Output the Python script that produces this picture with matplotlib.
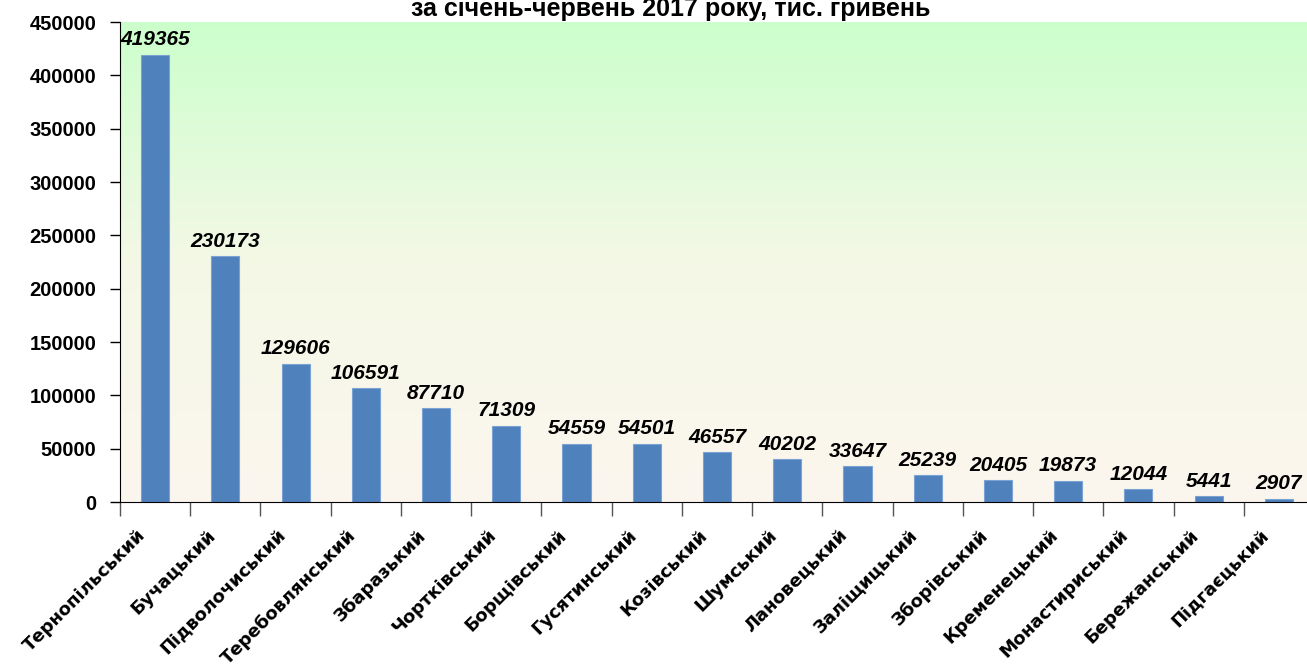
import numpy as np
import matplotlib
matplotlib.use("Agg")
import matplotlib.pyplot as plt
from matplotlib.colors import LinearSegmentedColormap

districts = ["Тернопільський", "Бучацький", "Підволочиський", "Теребовлянський",
             "Збаразький", "Чортківський", "Борщівський", "Гусятинський",
             "Козівський", "Шумський", "Лановецький", "Заліщицький",
             "Зборівський", "Кременецький", "Монастириський", "Бережанський",
             "Підгаєцький"]
values = [419365, 230173, 129606, 106591, 87710, 71309, 54559, 54501,
          46557, 40202, 33647, 25239, 20405, 19873, 12044, 5441, 2907]
title = "за січень-червень 2017 року, тис. гривень"

W, H = 1307, 668
fig = plt.figure(figsize=(W / 100, H / 100), dpi=100)
# plot area in pixels: left 120, right ~1314, top 22, bottom 502
ax = fig.add_axes([120 / W, 1 - 502 / H, 1194 / W, 480 / H])

# gradient background
grad = LinearSegmentedColormap.from_list("bg", ["#fcf6ee", "#f4f8e6", "#ccffcc"])
ax.imshow(np.linspace(0, 1, 256).reshape(-1, 1), cmap=grad, aspect="auto",
          extent=[0, 1, 0, 1], transform=ax.transAxes, origin="lower", zorder=0)

x = np.arange(len(values))
ax.bar(x, values, width=0.4, color="#4f81bd", edgecolor="#7aa3d3", linewidth=0.8, zorder=2)

for xi, v in zip(x, values):
    ax.annotate(str(v), (xi, v), xytext=(0, 4), textcoords="offset points",
                ha="center", va="bottom", fontsize=15, fontweight="bold",
                fontstyle="italic", family="Liberation Sans", zorder=3)

ax.set_xlim(-0.5, len(values) - 0.5)
ax.set_ylim(0, 450000)
ax.set_yticks(np.arange(0, 450001, 50000))
ax.set_yticklabels([str(t) for t in range(0, 450001, 50000)],
                   fontsize=14.5, fontweight="bold", family="Liberation Sans")
ax.tick_params(axis="y", length=7, width=1, pad=10)

# ticks at category boundaries, labels under bars
ax.set_xticks(np.arange(len(values)) - 0.5)
ax.set_xticklabels([])
ax.tick_params(axis="x", length=10, width=1, color="#555555")
for xi, name in zip(x, districts):
    ax.annotate(name, (xi, 0), xytext=(-9, -22), textcoords="offset points",
                rotation=45, rotation_mode="anchor", ha="right", va="center",
                fontsize=13, fontweight="bold", family="DejaVu Sans",
                annotation_clip=False)

for s in ["top", "right"]:
    ax.spines[s].set_visible(False)
ax.spines["left"].set_color("black")
ax.spines["bottom"].set_color("black")

fig.text(671 / W, 1 - 16 / H, title, ha="center", va="baseline",
         fontsize=18, fontweight="bold", family="Liberation Sans")

fig.savefig("out.png", dpi=100)
